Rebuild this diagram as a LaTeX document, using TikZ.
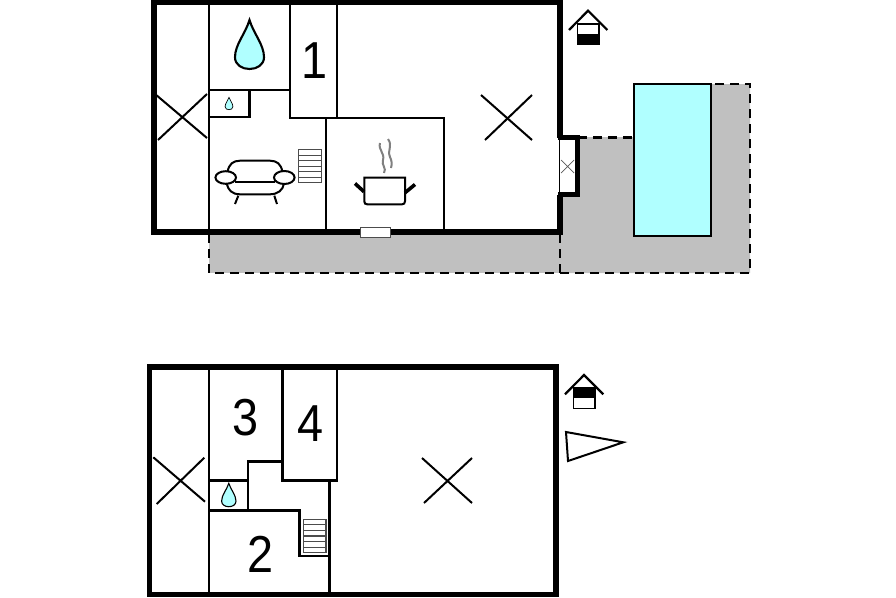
\documentclass[tikz,border=0pt]{standalone}
\usepackage{fontspec}
\setmainfont{Liberation Sans}
\definecolor{poolc}{HTML}{B0FFFF}
\definecolor{terr}{HTML}{C0C0C0}
\tikzset{
 outer/.style={line width=5.2pt,line cap=butt,miter limit=10},
 inner/.style={line width=2.5pt,line join=miter},
 cross/.style={line width=2pt},
 dashline/.style={line width=2.6pt,dash pattern=on 9pt off 6pt},
 waterdrop/.style={fill=poolc,draw=black,line width=2.1pt},
 stair/.style={draw=black!70,line width=1.2pt,fill=white},
 digit/.style={font=\fontsize{52}{52}\selectfont,inner sep=0pt,xscale=.9},
}
\newcommand{\dropshape}[5][waterdrop]{% style, x center, tip y, bottom y, half width
 \draw[#1] (#2,#3) .. controls ({#2+0.28*#5},{#3+0.28*(#4-#3)}) and ({#2+#5},{#3+0.5*(#4-#3)}) .. ({#2+#5},{#3+0.76*(#4-#3)})
  .. controls ({#2+#5},{#3+0.92*(#4-#3)}) and ({#2+0.5*#5},#4) .. (#2,#4)
  .. controls ({#2-0.5*#5},#4) and ({#2-#5},{#3+0.92*(#4-#3)}) .. ({#2-#5},{#3+0.76*(#4-#3)})
  .. controls ({#2-#5},{#3+0.5*(#4-#3)}) and ({#2-0.28*#5},{#3+0.28*(#4-#3)}) .. cycle;}
\newcommand{\stairs}[4]{% x0 y0 x1 y1
 \draw[stair] (#1,#2) rectangle (#3,#4);
 \foreach \k in {1,...,5}{\draw[draw=black!70,line width=1.2pt] (#1,{#2+\k*(#4-#2)/6}) -- (#3,{#2+\k*(#4-#2)/6});}}
\begin{document}
\begin{tikzpicture}[x=1pt,y=-1pt]
\useasboundingbox (0,0) rectangle (896,597);
% terrace
\fill[terr] (209,232) rectangle (560,273);
\fill[terr] (560,137) -- (634,137) -- (634,84) -- (750,84) -- (750,273) -- (560,273) -- cycle;
\draw[dashline] (209,234) -- (209,273) -- (750,273) -- (750,84) -- (711,84);
\draw[dashline] (560,234) -- (560,273);
\draw[dashline] (578,137.5) -- (634,137.5);
% pool
\draw[fill=poolc,line width=2pt] (634,84) rectangle (711,236);
% top floor inner walls
\draw[inner] (209,2) -- (209,232);
\draw[inner] (209,90) -- (290,90);
\draw[inner] (290,2) -- (290,118) -- (444,118) -- (444,232);
\draw[inner] (337,2) -- (337,118);
\draw[inner] (326,118) -- (326,232);
\draw[inner] (209,117) -- (249.5,117) -- (249.5,90);
% top floor outer walls
\draw[outer] (560,137.5) -- (560,2) -- (154,2) -- (154,232) -- (560,232) -- (560,194.5);
\fill[white] (557.7,139.8) rectangle (575.2,192.2);
\draw[outer] (557.7,137.5) -- (577.5,137.5) -- (577.5,194.5) -- (557.7,194.5);
\draw[line width=1.2pt] (559.3,137.5) -- (559.3,194.5);
\draw[black!65,line width=.7pt] (561,160) -- (574,173) (561,173) -- (574,160);
% window
\draw[fill=white,draw=black!70,line width=1pt] (360.7,227) rectangle (390.3,237);
% crosses
\draw[cross] (155,94) -- (207,138) (158,140) -- (207,94);
\draw[cross] (481,95) -- (532,140) (485,140) -- (532,95);
% drops
\dropshape{249.5}{20}{69}{14.5}
\dropshape[waterdrop,line width=.7pt]{229}{97.3}{109.7}{3.9}
% label 1
\node[digit] (n1) at (315,61) {1};
% stairs
\stairs{298.7}{149.7}{321.3}{182.7}
% sofa
\begin{scope}[line width=2pt]
\draw (227.5,172) .. controls (229,164) and (233,160.7) .. (240,160.7) -- (270,160.7) .. controls (277,160.7) and (281,164) .. (282.5,172);
\draw (235,181.7) -- (275,181.7);
\draw (226.7,183.5) .. controls (228,190) and (232,194.3) .. (240,194.3) -- (270,194.3) .. controls (278,194.3) and (283,190) .. (284,183.5);
\draw (238.3,195.7) -- (235,204);
\draw (274.3,195.7) -- (277,204);
\draw[fill=white] (225.7,177.5) ellipse (10.3 and 6.3);
\draw[fill=white] (284.3,177.5) ellipse (10.3 and 6.5);
\end{scope}
% pot
\draw[line width=2pt,fill=white] (364.3,177.7) -- (405,177.7) -- (405,201.3) .. controls (405,203.3) and (404,204.3) .. (402,204.3) -- (367.3,204.3) .. controls (365.3,204.3) and (364.3,203.3) .. (364.3,201.3) -- cycle;
\draw[line width=3.6pt] (364,191.7) -- (355,183.5);
\draw[line width=3.6pt] (405,192.7) -- (415,184.5);
\draw[black!50,line width=2pt] (380,143) .. controls (378,150) and (385,153) .. (383,160) .. controls (381,165) and (387,168) .. (384,173);
\draw[black!50,line width=2pt] (388,139) .. controls (393,146) and (387,150) .. (390,157) .. controls (392,161) and (392,164) .. (391,168);
% well icon top
\fill[black] (577.3,34.3) rectangle (599,44.3);
\draw[line width=1.6pt] (577.3,24) rectangle (599,44.3);
\draw[line width=2.2pt] (569,30) -- (588,10.7) -- (607.3,30);

% lower floor
\draw[inner] (209,367) -- (209,594.5);
\draw[inner] (282.5,367) -- (282.5,480.5) -- (337,480.5) -- (337,367);
\draw[inner] (329.5,480.5) -- (329.5,594.5);
\draw[inner] (282.5,461.5) -- (248,461.5) -- (248,510.7);
\draw[inner] (209,480.5) -- (248,480.5);
\draw[inner] (209,510.7) -- (299.5,510.7) -- (299.5,556) -- (329.5,556);
\draw[outer] (149.5,367) rectangle (556,594.5);
\draw[cross] (153.3,457.3) -- (205,501.7) (156.7,504) -- (204.3,457.7);
\draw[cross] (422,458) -- (472,503) (424,503) -- (472,458);
\dropshape[waterdrop,line width=1.1pt]{228.8}{483.3}{506.7}{7.2}
\stairs{303.7}{519.3}{326}{552.7}
\node[digit] (n3) at (246,418) {3};
\node[digit] (n4) at (311,424) {4};
\node[digit] (n2) at (261,554) {2};
% well icon lower
\draw[line width=1.6pt,fill=white] (573.3,387.7) rectangle (595,408.3);
\fill[black] (573.3,387.7) rectangle (595,397.7);
\draw[line width=2.2pt] (565,394.3) -- (584,375) -- (603.3,394.3);
% north arrow
\draw[line width=2pt,fill=white] (566,432) -- (623.3,442.3) -- (568,461) -- cycle;
\end{tikzpicture}
\end{document}
